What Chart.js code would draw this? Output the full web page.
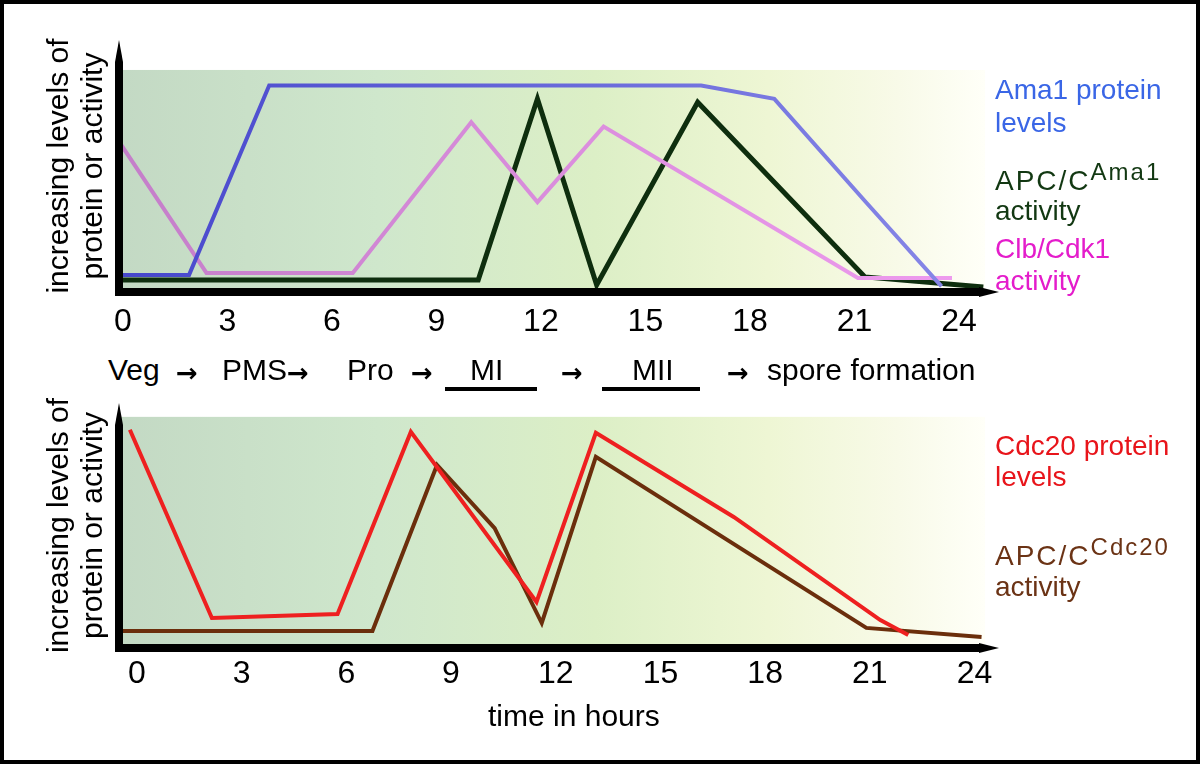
<!DOCTYPE html>
<html lang="en">
<head>
  <meta charset="UTF-8"/>
  <title>Ama1 and Cdc20 through meiosis</title>
  <script src="https://cdn.jsdelivr.net/npm/chart.js"></script>
  <style>
    body { margin: 0; background: #fff; font-family: "Liberation Sans", Arial, Helvetica, sans-serif; }
    .page { position: relative; width: 1200px; height: 764px; overflow: hidden; background: #fff; }
    .page canvas { position: absolute; left: 0; }
    #topChart { top: 0; }
    #bottomChart { top: 390px; }
    .edge { position: absolute; inset: 0; border: 4px solid #000; pointer-events: none; }
    .lbl { position: absolute; font-size: 28px; line-height: 31px; white-space: nowrap; }
    .lbl .apc { letter-spacing: 2px; }
    .lbl sup { font-size: 24px; line-height: 0; vertical-align: 10px; letter-spacing: 2px; }
    .stage { position: absolute; top: 355px; font-size: 30px; line-height: 30px; color: #000; white-space: nowrap; }
    .arrow { position: absolute; top: 358px; font-family: "DejaVu Sans", sans-serif; font-weight: bold; font-size: 26px; line-height: 30px; }
    .bar { position: absolute; height: 4px; background: #000; }
    .xtitle { position: absolute; left: 488px; top: 701px; font-size: 30px; line-height: 30px; }
  </style>
</head>
<body>
<div class="page">
  <canvas id="topChart" width="1200" height="350"></canvas>
  <canvas id="bottomChart" width="1200" height="374"></canvas>

  <!-- series labels, upper panel -->
  <div class="lbl" style="left:995px; top:73px; line-height:33px; color:#3a66e6;">Ama1 protein<br>levels</div>
  <div class="lbl" style="left:995px; top:166px; line-height:30px; color:#123812;"><span class="apc">APC/C</span><sup>Ama1</sup><br>activity</div>
  <div class="lbl" style="left:995px; top:233px; line-height:32px; color:#e41ccb;">Clb/Cdk1<br>activity</div>

  <!-- stages -->
  <div class="stage" style="left:108px;">Veg</div>
  <div class="arrow" style="left:176px;">→</div>
  <div class="stage" style="left:222px;">PMS</div>
  <div class="arrow" style="left:287px;">→</div>
  <div class="stage" style="left:347px;">Pro</div>
  <div class="arrow" style="left:411px;">→</div>
  <div class="stage" style="left:470px;">MI</div>
  <div class="bar" style="left:445px; width:92px; top:387px;"></div>
  <div class="arrow" style="left:561px;">→</div>
  <div class="stage" style="left:632px;">MII</div>
  <div class="bar" style="left:602px; width:98px; top:387px;"></div>
  <div class="arrow" style="left:727px;">→</div>
  <div class="stage" style="left:767px;">spore formation</div>

  <!-- series labels, lower panel -->
  <div class="lbl" style="left:995px; top:430px; color:#e8141a;">Cdc20 protein<br>levels</div>
  <div class="lbl" style="left:995px; top:540px; color:#6b3315;"><span class="apc">APC/C</span><sup>Cdc20</sup><br>activity</div>

  <div class="xtitle">time in hours</div>
  <div class="edge"></div>
</div>
<script>
const xTickValues = [0, 3, 6, 9, 12, 15, 18, 21, 24];
const yTitle = ['increasing levels of', 'protein or activity'];

// upper panel: hours vs relative level (0 = axis, 100 = top of shaded band)
const ama1Hours     = [-0.1, 1.9, 4.2, 16.6, 18.7, 21.3, 23.5];
const ama1Levels    = [7.7, 7.7, 93, 93, 87, 41, 2.5];
const apcAma1Hours  = [-0.1, 10.2, 11.9, 13.6, 16.5, 21.3, 24.7];
const apcAma1Levels = [5.4, 5.4, 87, 3.2, 85.5, 6.8, 2.3];
const clbHours      = [-0.1, 2.4, 6.6, 10.0, 11.9, 13.8, 21.1, 23.8];
const clbLevels     = [67.5, 8.6, 8.6, 76.5, 40.5, 74.5, 6.3, 6.3];

// lower panel
const cdc20Hours     = [-0.2, 2.15, 5.75, 7.85, 11.45, 13.15, 17.1, 21.3, 22.1];
const cdc20Levels    = [94.4, 13, 14.7, 93.5, 19.9, 93.1, 56.7, 12.1, 5.6];
const apcCdc20Hours  = [-0.4, 6.75, 8.6, 10.25, 11.6, 13.15, 20.9, 24.2];
const apcCdc20Levels = [7.4, 7.4, 79.2, 51.9, 10.8, 82.7, 8.7, 4.8];

const bgStops = [[0, '#c3d9c4'], [0.3, '#cfe7cc'], [0.55, '#dcefc6'], [0.75, '#eef6d4'], [0.9, '#f8fae8'], [1, '#fffff8']];

function pts(xs, ys) { return xs.map((x, i) => ({ x, y: ys[i] })); }

function fade(from, to) {
  return c => {
    const a = c.chart.chartArea;
    if (!a) return from;
    const g = c.chart.ctx.createLinearGradient(a.left, 0, a.right, 0);
    g.addColorStop(0, from); g.addColorStop(1, to);
    return g;
  };
}

// shaded band behind the curves + thick arrowed axes on top
const panelDecor = {
  id: 'panelDecor',
  beforeDatasetsDraw(chart) {
    const { ctx, chartArea: a, scales: { y } } = chart;
    const top = y.getPixelForValue(100), right = a.right - 14;
    const g = ctx.createLinearGradient(a.left, 0, right, 0);
    bgStops.forEach(([p, c]) => g.addColorStop(p, c));
    ctx.save(); ctx.fillStyle = g;
    ctx.fillRect(a.left, top, right - a.left, a.bottom - top);
    ctx.restore();
  },
  afterDatasetsDraw(chart) {
    const { ctx, chartArea: a } = chart;
    const x0 = a.left + 1, y0 = a.bottom, w = 8;
    ctx.save(); ctx.fillStyle = '#000';
    ctx.fillRect(x0 - w / 2, a.top + 22, w, y0 - a.top - 22 + w / 2);
    ctx.beginPath(); ctx.moveTo(x0 - w / 2, a.top + 22); ctx.lineTo(x0, a.top); ctx.lineTo(x0 + w / 2, a.top + 22); ctx.fill();
    ctx.fillRect(x0 - w / 2, y0 - w / 2, a.right - 20 - (x0 - w / 2), w);
    ctx.beginPath(); ctx.moveTo(a.right - 20, y0 - w / 2 - 1); ctx.lineTo(a.right, y0); ctx.lineTo(a.right - 20, y0 + w / 2 + 1); ctx.fill();
    ctx.restore();
  }
};

function line(data, color, width) {
  return { data, borderColor: color, borderWidth: width, pointRadius: 0, tension: 0, fill: false, borderJoinStyle: 'miter' };
}

function panel(canvasId, datasets, o) {
  new Chart(document.getElementById(canvasId), {
    type: 'line',
    data: { datasets },
    options: {
      responsive: false, animation: false, events: [],
      layout: { padding: { top: o.top, right: 201, left: 0, bottom: 0 } },
      plugins: { legend: { display: false }, tooltip: { enabled: false } },
      scales: {
        x: {
          type: 'linear', min: o.xMin, max: o.xMax,
          grid: { display: false, drawTicks: false }, border: { display: false },
          ticks: { color: '#000', font: { size: 32, family: 'Liberation Sans' }, padding: o.tickPad, maxRotation: 0 },
          afterBuildTicks: s => { s.ticks = xTickValues.map(v => ({ value: v })); },
          afterFit: s => { s.height = o.xHeight; }
        },
        y: {
          min: 0, max: o.yMax,
          grid: { display: false, drawTicks: false }, border: { display: false },
          ticks: { display: false },
          title: { display: true, text: yTitle, color: '#000', font: { size: 30, lineHeight: 1.13, family: 'Liberation Sans' }, padding: { top: 43, bottom: 0 } },
          afterFit: s => { s.width = 118; }
        }
      }
    },
    plugins: [panelDecor]
  });
}

panel('topChart', [
  line(pts(ama1Hours, ama1Levels), fade('#4646cc', '#8a8ae8'), 4),
  line(pts(clbHours, clbLevels), fade('#c47ec9', '#f09cf0'), 4),
  line(pts(apcAma1Hours, apcAma1Levels), '#0e2e0e', 5)
], { top: 40, xMin: -0.14, xMax: 25.15, yMax: 113.5, xHeight: 58, tickPad: 11 });

panel('bottomChart', [
  line(pts(cdc20Hours, cdc20Levels), '#ee2020', 4),
  line(pts(apcCdc20Hours, apcCdc20Levels), '#6b2e0c', 4)
], { top: 13, xMin: -0.54, xMax: 24.7, yMax: 106, xHeight: 116, tickPad: 7 });
</script>
</body>
</html>
